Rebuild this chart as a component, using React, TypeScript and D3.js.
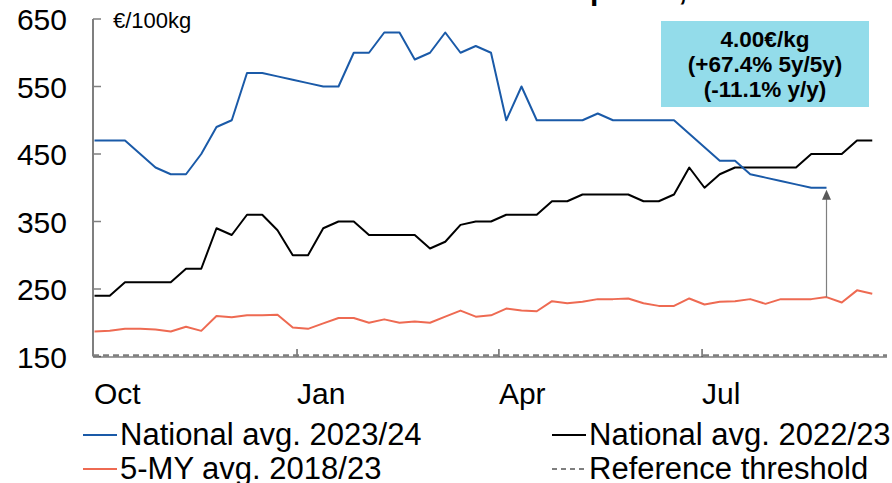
import React from "react";
import * as d3 from "d3";

// weekly prices, €/100kg (marketing year starting October)
const national2324 = [470, 470, 470, 450, 430, 420, 420, 450, 490, 500, 570, 570, 565, 560, 555, 550, 550, 600, 600, 630, 630, 590, 600, 630, 600, 610, 600, 500, 550, 500, 500, 500, 500, 510, 500, 500, 500, 500, 500, 480, 460, 440, 440, 420, 415, 410, 405, 400, 400];
const national2223 = [240, 240, 260, 260, 260, 260, 280, 280, 340, 330, 360, 360, 337, 300, 300, 340, 350, 350, 330, 330, 330, 330, 310, 320, 345, 350, 350, 360, 360, 360, 380, 380, 390, 390, 390, 390, 380, 380, 390, 430, 400, 420, 430, 430, 430, 430, 430, 450, 450, 450, 470, 470];
const avg5y = [187, 188, 191, 191, 190, 187, 194, 188, 210, 208, 211, 211, 212, 193, 191, 199, 207, 207, 200, 205, 200, 202, 200, 209, 218, 209, 211, 221, 218, 217, 232, 229, 231, 235, 235, 236, 229, 225, 225, 236, 227, 231, 232, 235, 228, 235, 235, 235, 238, 230, 248, 243];
const threshold = 150;

const yTicks = [150, 250, 350, 450, 550, 650];
const monthLabels = ["Oct", "Jan", "Apr", "Jul"];
const monthWeeks = [0, 13.28, 26.52, 39.84];

const annotationLines = ["4.00€/kg", "(+67.4% 5y/5y)", "(-11.1% y/y)"];

const BLUE = "#1a5aa8";
const RED = "#ee6a52";
const GRAY = "#7f7f7f";
const FONT = "'Liberation Sans', Arial, sans-serif";

export default function App() {
  const W = 892;
  const H = 483;

  const x = d3.scaleLinear().domain([0, 52]).range([94.5, 887.5]);
  const y = d3.scaleLinear().domain([150, 650]).range([356.5, 19]);

  const line = d3
    .line<number>()
    .x((_, i) => x(i))
    .y((d) => y(d));

  const arrowIdx = national2324.length - 1;
  const ax = x(arrowIdx);
  const ayTop = y(national2324[arrowIdx]) + 2;
  const ayBottom = y(avg5y[arrowIdx]);

  const legend = [
    { label: "National avg. 2023/24", color: BLUE, dash: null, lx: 83, ty: 445 },
    { label: "National avg. 2022/23", color: "#000", dash: null, lx: 552, ty: 445 },
    { label: "5-MY avg. 2018/23", color: RED, dash: null, lx: 83, ty: 479 },
    { label: "Reference threshold", color: GRAY, dash: "5,4", lx: 552, ty: 479 },
  ];

  return (
    <svg
      width={W}
      height={H}
      style={{ position: "absolute", left: 0, top: 0, background: "#fff" }}
      fontFamily={FONT}
    >
      {/* title, cut off at the top of the picture */}
      <text x={485} y={0} fontSize={30} fontWeight="bold" fill="#000">
        Market prices, EU
      </text>

      {/* y axis */}
      <line x1={93} x2={93} y1={y(650)} y2={y(150)} stroke={GRAY} strokeWidth={2} />
      {yTicks.map((t) => (
        <g key={t}>
          <line x1={93} x2={101} y1={y(t)} y2={y(t)} stroke={GRAY} strokeWidth={1.5} />
          <text x={67} y={y(t) + 11} fontSize={30} textAnchor="end" fill="#000">
            {t}
          </text>
        </g>
      ))}
      <text x={113} y={28} fontSize={22} fill="#000">
        €/100kg
      </text>

      {/* x axis */}
      <line x1={93} x2={887} y1={357} y2={357} stroke="#404040" strokeWidth={1.2} />
      {monthWeeks.map((w, i) => (
        <g key={monthLabels[i]}>
          {i > 0 && (
            <line x1={x(w)} x2={x(w)} y1={349} y2={357} stroke="#404040" strokeWidth={1.2} />
          )}
          <text x={i === 0 ? 94 : x(w)} y={404} fontSize={30} fill="#000">
            {monthLabels[i]}
          </text>
        </g>
      ))}

      {/* reference threshold */}
      <line
        x1={93}
        x2={887}
        y1={y(threshold) - 1}
        y2={y(threshold) - 1}
        stroke={GRAY}
        strokeWidth={2.5}
        strokeDasharray="6,4"
      />

      {/* series */}
      <path d={line(avg5y) || ""} fill="none" stroke={RED} strokeWidth={2} strokeLinejoin="round" />
      <path d={line(national2223) || ""} fill="none" stroke="#000" strokeWidth={2} strokeLinejoin="round" />
      <path d={line(national2324) || ""} fill="none" stroke={BLUE} strokeWidth={2} strokeLinejoin="round" />

      {/* arrow from 5y avg to current price */}
      <line x1={ax} x2={ax} y1={ayBottom} y2={ayTop + 8} stroke={GRAY} strokeWidth={1.2} />
      <path
        d={`M${ax},${ayTop} L${ax - 4.5},${ayTop + 10} L${ax + 4.5},${ayTop + 10} Z`}
        fill="#595959"
      />

      {/* annotation box */}
      <rect x={661} y={21} width={208} height={86} fill="#93dcea" />
      {annotationLines.map((t, i) => (
        <text
          key={t}
          x={765}
          y={47 + i * 25}
          fontSize={22.5}
          fontWeight="bold"
          textAnchor="middle"
          fill="#000"
        >
          {t}
        </text>
      ))}

      {/* legend */}
      {legend.map((l) => (
        <g key={l.label}>
          <line
            x1={l.lx}
            x2={l.lx + 34}
            y1={l.ty - 10}
            y2={l.ty - 10}
            stroke={l.color}
            strokeWidth={2}
            strokeDasharray={l.dash || undefined}
          />
          <text x={l.lx + 37} y={l.ty} fontSize={31} fill="#000">
            {l.label}
          </text>
        </g>
      ))}
    </svg>
  );
}
